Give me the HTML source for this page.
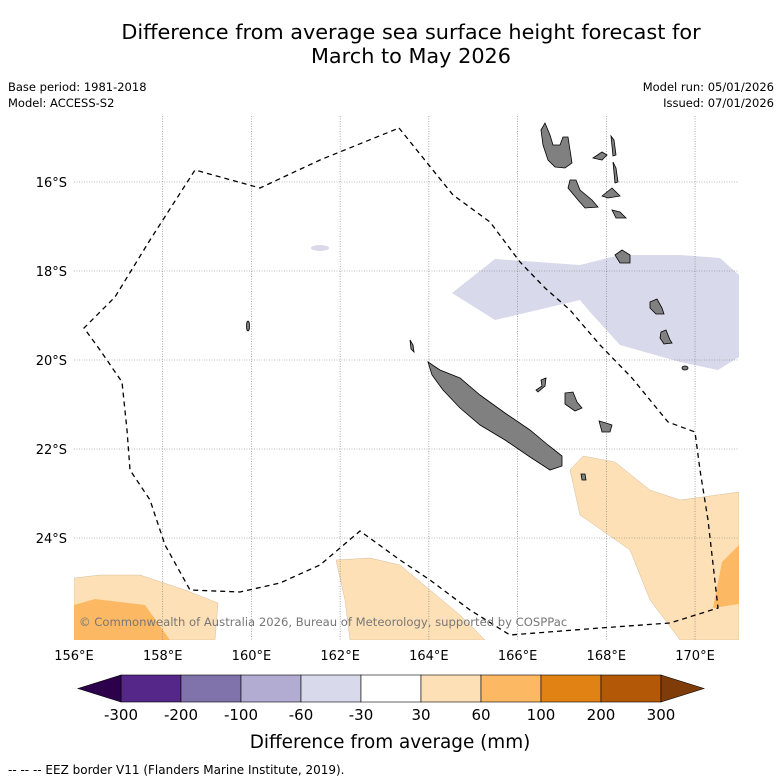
<!DOCTYPE html>
<html><head><meta charset="utf-8"><style>
body{margin:0;background:#fff;font-family:"DejaVu Sans","Liberation Sans",sans-serif;}
svg{display:block}
</style></head><body>
<svg width="781" height="781" viewBox="0 0 781 781" id="chart">
<text x="411" y="39" font-size="20.8" text-anchor="middle">Difference from average sea surface height forecast for</text>
<text x="411" y="63" font-size="20.8" text-anchor="middle">March to May 2026</text>
<text x="8" y="91" font-size="11.5">Base period: 1981-2018</text>
<text x="8" y="107" font-size="11.5">Model: ACCESS-S2</text>
<text x="774" y="91" font-size="11.5" text-anchor="end">Model run: 05/01/2026</text>
<text x="774" y="107" font-size="11.5" text-anchor="end">Issued: 07/01/2026</text>
<defs><clipPath id="mc"><rect x="74" y="116" width="665" height="524"/></clipPath></defs>
<g clip-path="url(#mc)">
<polygon fill="#d8d9ea" points="452,293 495,259 580,265 620,255 680,255 720,258 739,275 739,357 718,370 680,362 620,345 590,312 580,300 495,320"/>
<ellipse cx="320" cy="248" rx="9" ry="3" fill="#d8d9ea"/>
<polygon fill="#fee0b6" stroke="#c8b090" stroke-width="0.4" points="570,470 583,456 615,462 650,490 680,500 739,492 739,640 680,640 650,600 630,550 580,515"/>
<polygon fill="#fdb863" points="739,545 722,562 713,608 739,604"/>
<polygon fill="#fee0b6" stroke="#c8b090" stroke-width="0.4" points="74,578 100,575 140,575 185,590 218,603 215,640 74,640"/>
<polygon fill="#fdb863" points="74,605 95,599 145,605 170,640 74,640"/>
<polygon fill="#fee0b6" stroke="#c8b090" stroke-width="0.4" points="336,560 370,558 400,565 430,590 460,615 485,640 350,640 345,600"/>
<g id="grid"></g>
<g fill="#808080" stroke="#000" stroke-width="0.8">
<polygon points="428,362 440,370 460,378 480,395 505,413 530,430 548,445 562,456 562,466 550,470 530,457 505,440 480,425 460,408 443,390 432,375"/>
<polygon points="545,123 550,135 553,145 560,145 563,137 568,137 570,150 572,163 565,168 555,167 548,160 543,145 541,130"/>
<polygon points="570,180 576,180 580,190 592,200 598,207 585,208 578,200 568,188"/>
<polygon points="593,158 602,152 607,155 602,160"/>
<polygon points="611,136 614,140 616,155 613,156"/>
<polygon points="613,162 616,168 618,182 615,183"/>
<polygon points="602,196 612,188 620,196 608,198"/>
<polygon points="612,210 620,212 626,218 616,218"/>
<polygon points="615,255 622,250 630,255 630,263 620,263"/>
<polygon points="650,302 657,299 662,308 664,314 656,314 650,308"/>
<polygon points="661,332 666,330 670,340 672,343 664,344 660,338"/>
<ellipse cx="685" cy="368" rx="3" ry="2"/>
<polygon points="541,380 546,378 545,386 538,392 536,390 542,386"/>
<polygon points="565,393 573,392 577,402 582,408 575,411 565,404"/>
<polygon points="599,421 606,423 612,425 610,432 602,432"/>
<polygon points="581,474 585,474 586,480 582,480"/>
<polygon points="410,340 413,345 414,352 411,349"/>
<ellipse cx="248" cy="326" rx="1.5" ry="5"/>
</g>
<polyline fill="none" stroke="#000" stroke-width="1.3" stroke-dasharray="5,4" points="399,128 453,195 490,222 520,262 545,288 570,310 600,345 632,378 668,422 695,432 700,470 708,520 718,608 670,623 600,628 510,635 470,610 430,580 400,560 360,531 320,565 280,583 240,592 190,590 165,545 150,500 130,470 127,430 122,382 100,350 84,328 115,297 150,240 195,170 260,188 320,160 399,128"/>
<text x="79" y="626" font-size="11.6" fill="#777">© Commonwealth of Australia 2026, Bureau of Meteorology, supported by COSPPac</text>
</g>
<g id="axes"></g>
<g id="cbar"></g>
<text x="390" y="748" font-size="18.4" text-anchor="middle">Difference from average (mm)</text>
<text x="8" y="774" font-size="12">--  --  -- EEZ border V11 (Flanders Marine Institute, 2019).</text>
</svg>
<script>
const lonTicks=[156,158,160,162,164,166,168,170];
const latTicks=[16,18,20,22,24];
const cbarLevels=["-300","-200","-100","-60","-30","30","60","100","200","300"];
const cbarColors=["#542788","#8073ac","#b2abd2","#d8daeb","#ffffff","#fee0b6","#fdb863","#e08214","#b35806"];
const cbarEnds=["#2d004b","#7f3b08"];
const NS="http://www.w3.org/2000/svg";
function X(lon){return 74+(lon-156)*44.36;}
function Y(lat){return 182+(lat-16)*44.5;}
function mk(t,a,p){const e=document.createElementNS(NS,t);for(const k in a)e.setAttribute(k,a[k]);p.appendChild(e);return e;}
const grid=document.getElementById('grid'),axes=document.getElementById('axes'),cb=document.getElementById('cbar');
lonTicks.forEach(l=>{
 if(l>156){const g=mk('line',{x1:X(l),x2:X(l),y1:116,y2:640,stroke:'#777','stroke-width':0.6,'stroke-dasharray':'1,1.5'},grid);
 
 }
 const t=mk('text',{x:X(l),y:660,'font-size':13,'text-anchor':'middle'},axes);t.textContent=l+'°E';
 
 
});
latTicks.forEach(l=>{
 const g=mk('line',{x1:74,x2:739,y1:Y(l),y2:Y(l),stroke:'#777','stroke-width':0.6,'stroke-dasharray':'1,1.5'},grid);
 
 
 const t=mk('text',{x:67,y:Y(l)+5,'font-size':13,'text-anchor':'end'},axes);t.textContent=l+'°S';
 
 
});
const x0=121,x1=661,y0=675,y1=702,w=(x1-x0)/cbarColors.length;
cbarColors.forEach((c,i)=>{
 const r=mk('rect',{x:x0+i*w,y:y0,width:w,height:y1-y0,fill:c,stroke:'#000','stroke-width':0.6},cb);
 
 
});
const a1=mk('polygon',{points:`${x0},${y0} 78,${(y0+y1)/2} ${x0},${y1}`,fill:cbarEnds[0],stroke:'#000','stroke-width':0.6},cb);


const a2=mk('polygon',{points:`${x1},${y0} 704,${(y0+y1)/2} ${x1},${y1}`,fill:cbarEnds[1],stroke:'#000','stroke-width':0.6},cb);


cbarLevels.forEach((v,i)=>{
 const t=mk('text',{x:x0+i*w,y:720,'font-size':15,'text-anchor':'middle'},cb);t.textContent=v;
 
 
});
</script>
</body></html>
